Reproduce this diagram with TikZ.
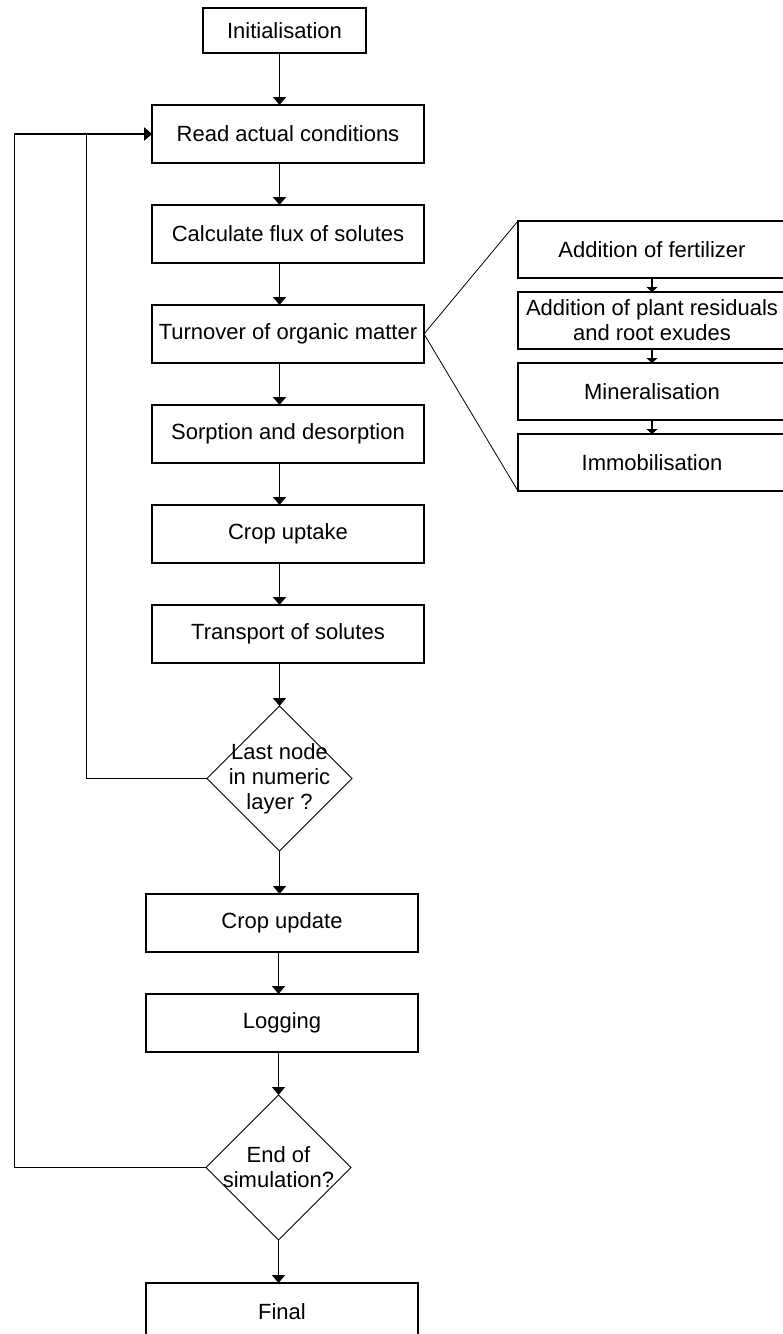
\documentclass[tikz,border=0pt]{standalone}
\usepackage{fontspec}
\setmainfont{Liberation Sans}
\usetikzlibrary{positioning,shapes.geometric,arrows.meta}
\tikzstyle{process} = [rectangle,
                       minimum width=272pt,
                                             minimum height=58pt,
                                                                   inner sep=2pt,
                                                                                   outer sep=0pt,
                                                                                                   text centered,
                                                                                                                   font=\fontsize{22}{25}\selectfont,
                                                                                                                                                   line width=1.4pt,
                                                                                                                                                                   draw=black]
\tikzstyle{decision} = [diamond,
                        minimum width=145pt,
                                              minimum height=145pt,
                                                                     inner sep=-12pt,
                                                                                      outer sep=0pt,
                                                                                                      align=center,
                                                                                                                     font=\fontsize{22}{25}\selectfont,
                                                                                                                                                    line width=1pt,
                                                                                                                                                                    draw=black]
\tikzstyle{substep} = [rectangle,
                       minimum width=268pt,
                                             minimum height=57pt,
                                                                   inner sep=1pt,
                                                                                   outer sep=0pt,
                                                                                                   align=center,
                                                                                                                   font=\fontsize{22}{25}\selectfont,
                                                                                                                                                   line width=1.4pt,
                                                                                                                                                                   draw=black]
\tikzstyle{flow} = [-{Triangle[width=13pt,length=8pt]}, line width=1.4pt]
\tikzstyle{subflow} = [-{Triangle[width=11pt,length=5pt]}, line width=1.4pt]

\begin{document}
\begin{tikzpicture}[x=1pt, y=-1pt, node distance=42pt]
\useasboundingbox (0,0) rectangle (783,1334);
% main loop
\node (init) [process, minimum width=163pt, minimum height=45pt] at (284.5,30.5) {Initialisation};
\node (read) [process, below=52pt of init, xshift=3.5pt] {Read actual conditions};
\node (flux) [process, below= of read] {Calculate flux of solutes};
\node (turn) [process, below= of flux] {Turnover of organic matter};
\node (sorp) [process, below= of turn] {Sorption and desorption};
\node (upt) [process, below= of sorp] {Crop uptake};
\node (trans) [process, below= of upt] {Transport of solutes};
\node (last) [decision, below=43pt of trans, xshift=-8.5pt] {Last node\\in numeric\\layer ?};
\node (cupd) [process, below=43pt of last, xshift=2.5pt] {Crop update};
\node (log) [process, below= of cupd] {Logging};
\node (endsim) [decision, below=43pt of log, xshift=-3.5pt] {End of\\simulation?};
\node (final) [process, below=43pt of endsim, xshift=3.5pt] {Final};
% turnover details
\node (fert) [substep] at (652,249.5) {Addition of fertilizer};
\node (resid) [substep, below=14pt of fert] {Addition of plant residuals\\and root exudes};
\node (miner) [substep, below=14pt of resid] {Mineralisation};
\node (immo) [substep, below=14pt of miner] {Immobilisation};

\draw [flow] (init.south -| last) -- (read.north -| last);
\draw [flow] (read.south -| last) -- (flux.north -| last);
\draw [flow] (flux.south -| last) -- (turn.north -| last);
\draw [flow] (turn.south -| last) -- (sorp.north -| last);
\draw [flow] (sorp.south -| last) -- (upt.north -| last);
\draw [flow] (upt.south -| last) -- (trans.north -| last);
\draw [flow] (trans.south -| last) -- (last.north);
\draw [flow] (last.south) -- (cupd.north -| last);
\draw [flow] (cupd.south -| endsim) -- (log.north -| endsim);
\draw [flow] (log.south -| endsim) -- (endsim.north);
\draw [flow] (endsim.south) -- (final.north -| endsim);
% back to the start of the step
\draw [flow] (last.west) -- ++(-120.5,0) |- (read.west);
\draw [flow] (endsim.west) -- ++(-191.5,0) |- (read.west);

\draw [line width=0.8pt] (fert.north west) -- (turn.east) -- (immo.south west);
\draw [subflow] (fert.south) -- (resid.north);
\draw [subflow] (resid.south) -- (miner.north);
\draw [subflow] (miner.south) -- (immo.north);
\end{tikzpicture}
\end{document}
